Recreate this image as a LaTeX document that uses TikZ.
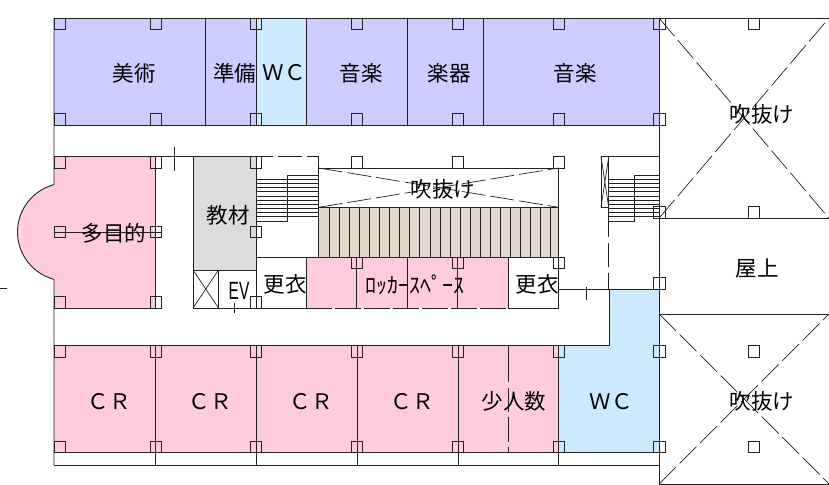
\documentclass[tikz,border=0pt]{standalone}
\usepackage{fontspec}
\setmainfont{Liberation Sans}
\newfontfamily\jpfont{Noto Sans CJK JP}
\definecolor{lineC}{HTML}{222222}
\definecolor{purp}{HTML}{CCCCFF}
\definecolor{skyb}{HTML}{CCE9FF}
\definecolor{pinkr}{HTML}{FFCCDF}
\definecolor{greyr}{HTML}{DCDCDC}
\definecolor{brownr}{HTML}{E3D9CF}
\tikzset{
  wall/.style={draw=lineC,line width=0.9bp},
  thin wall/.style={draw=lineC,line width=0.7bp},
  dash wall/.style={draw=lineC,line width=0.8bp,dash pattern=on 24bp off 5bp},
  void cross/.style={draw=lineC,line width=0.7bp,dash pattern=on 24bp off 5bp},
  column/.style={draw=lineC,line width=0.9bp},
  room/.style={inner sep=0pt,font=\jpfont\fontsize{21.5bp}{23bp}\selectfont,text=black},
}
\begin{document}
\begin{tikzpicture}[x=1bp,y=-1bp]
\useasboundingbox (0,0) rectangle (829,485);
% fills
\fill[purp] (54,18) rectangle (659,125.3);
\fill[skyb] (256,18) rectangle (306.3,125.3);
\fill[pinkr] (54,156.7) -- (155,156.7) -- (155,308) -- (54,308) -- (54,279.3)
  -- plot[domain=255.3:104.7,samples=40] ({66.4+48.9*cos(\x)},{232+48.9*sin(\x)}) -- cycle;
\fill[greyr] (193,156.7) rectangle (256,270);
\fill[brownr] (318.7,207.3) rectangle (558.5,257.3);
\fill[pinkr] (306.3,257.3) rectangle (508,308);
\fill[pinkr] (54,345.7) rectangle (558.5,452.7);
\fill[skyb] (609,289.3) -- (659,289.3) -- (659,452.7) -- (558.5,452.7) -- (558.5,345.7) -- (609,345.7) -- cycle;
% main walls
\draw[wall] (54,18) -- (829,18);
\draw[wall] (54,125.3) -- (659,125.3);
\draw[wall] (54,18) -- (54,184.7)
  plot[domain=104.7:255.3,samples=40] ({66.4+48.9*cos(\x)},{232+48.9*sin(\x)})
  (54,279.3) -- (54,465.3);
\draw[wall] (659,18) -- (659,484) -- (829,484);
\draw[wall] (659,218.3) -- (829,218.3);
\draw[wall] (659,314) -- (829,314);
\foreach \x in {205.7,256,306.3,407.3,483} \draw[wall] (\x,18) -- (\x,125.3);
% upper left
\draw[wall] (54,156.7) -- (193,156.7);
\draw[wall] (155,156.7) -- (155,308);
\draw[wall] (54,308) -- (161,308);
\draw[thin wall] (54,232.3) -- (161,232.3);
\draw[thin wall] (174,147) -- (174,170.7);
\draw[thin wall] (0,288) -- (7,288);
% core
\draw[wall] (193,156.7) -- (256,156.7);
\draw[wall] (193,156.7) -- (193,308) -- (306.3,308);
\draw[wall] (256,156.7) -- (256,308);
\draw[wall] (193,270) -- (256,270);
\draw[wall] (218.5,270) -- (218.5,308);
\draw[thin wall] (193,270) -- (218.5,308) (218.5,270) -- (193,308);
\draw[thin wall] (234.3,303) -- (234.3,312.7);
\draw[dash wall,dash pattern=on 11bp off 5bp on 24bp off 5bp on 12bp] (262,156.7) -- (318.7,156.7);
\draw[wall] (318.7,156.7) -- (318.7,257.3);
% left stair
\foreach \i in {0,...,9} \draw[thin wall] (256,179.3+4.17*\i) -- (318.7,179.3+4.17*\i);
\draw[thin wall] (256,221) -- (287.3,221) -- (287.3,175.3) -- (318.7,175.3);
% atrium
\draw[wall] (318.7,168) -- (558.5,168);
\draw[wall] (318.7,207.3) -- (558.5,207.3);
\draw[wall] (558.5,168) -- (558.5,308);
\draw[wall] (256,257.3) -- (558.5,257.3);
\draw[void cross] (318.7,168) -- (558.5,207.3);
\draw[void cross] (318.7,207.3) -- (558.5,168);
\foreach \i in {0,...,22} \draw[thin wall] (329.3+10.06*\i,207.3) -- (329.3+10.06*\i,257.3);
% lockers
\foreach \x in {306.3,356.7,407.3,457.7,508} \draw[wall] (\x,257.3) -- (\x,308);
\draw[wall,dash pattern=on 26bp off 3bp] (306.3,308) -- (508,308);
\draw[wall] (508,308) -- (558.5,308);
% right stair
\draw[wall] (608.7,156.7) -- (659,156.7);
\draw[wall] (608.7,156.7) -- (608.7,221);
\draw[thin wall] (601,156.7) rectangle (608.7,207.3);
\draw[thin wall] (601,156.7) -- (608.7,207.3) (608.7,156.7) -- (601,207.3);
\foreach \i in {0,...,9} \draw[thin wall] (608.7,179.3+4.17*\i) -- (659,179.3+4.17*\i);
\draw[thin wall] (608.7,221) -- (634,221) -- (634,175.3) -- (659,175.3);
\draw[thin wall,dash pattern=on 16bp off 6bp on 24bp off 6bp on 17bp] (608.7,221) -- (608.7,290);
\draw[thin wall] (558.5,289.3) -- (609,289.3);
\draw[thin wall] (586.3,286.7) -- (586.3,300);
% WC outline
\draw[wall] (609,289.3) -- (659,289.3);
\draw[wall] (609,289.3) -- (609,345.7) -- (54,345.7);
% lower
\draw[wall] (54,452.7) -- (659,452.7);
\draw[wall] (54,465.3) -- (659,465.3);
\foreach \x in {155,256,357,458,558.5} \draw[wall] (\x,345.7) -- (\x,465.3);
\draw[thin wall,dash pattern=on 36bp off 6bp on 24bp off 5bp on 25bp off 5bp on 6bp] (508,345.7) -- (508,452.7);
% voids
\draw[void cross] (659,18) -- (829,218.3);
\draw[void cross] (659,218.3) -- (829,18);
\draw[void cross] (659,314) -- (829,484);
\draw[void cross] (659,484) -- (829,314);
% columns
\foreach \x/\y in {
  54/18,150/18,250.3/18,351/18,452/18,553/18,653.7/18,748/18,
  54/113.7,150/113.7,250.3/113.7,351/113.7,452/113.7,553/113.7,653.7/113.7,
  54/156.7,150/156.7,250.3/156.7,351/156.7,452/156.7,553/156.7,
  54/226.3,150/226.3,250.3/226.3,653.7/206.7,748/206.7,
  351/257.3,452/257.3,553/257.3,653.7/277.7,
  54/296.7,150/296.7,250.3/296.7,
  54/345.7,150/345.7,250.3/345.7,351/345.7,452/345.7,553/345.7,653.7/345.7,748/345.7,
  54/441.3,150/441.3,250.3/441.3,351/441.3,452/441.3,553/441.3,653.7/441.3,748/441.3}
  \draw[column] (\x,\y) rectangle +(11.6,11.6);
% labels
\node[room] (art) at (134,73) {美術};
\node[room] (prep) at (234.5,73) {準備};
\node[room] (wc1) at (284,73) {ＷＣ};
\node[room] (mus1) at (361,73) {音楽};
\node[room] (inst) at (449,73) {楽器};
\node[room] (mus2) at (575,73) {音楽};
\node[room] (void1) at (762,114) {吹抜け};
\node[room] (roof) at (757,268) {屋上};
\node[room] (void2) at (762,401) {吹抜け};
\node[room] (multi) at (114,233) {多目的};
\node[room] (mat) at (228,215) {教材};
\node[room] (void3) at (443,189) {吹抜け};
\node[room] (chg1) at (285,284) {更衣};
\node[room] (chg2) at (537,284) {更衣};
\node[room,font=\jpfont\fontsize{22bp}{24bp}\selectfont] (lock) at (415,285) {ﾛｯｶｰｽﾍﾟｰｽ};
\node[inner sep=0pt] (ev) at (239,290.5) {\scalebox{0.62}[1]{\fontsize{25bp}{27bp}\selectfont EV}};
\node[room] (cr1) at (109,401.5) {ＣＲ};
\node[room] (cr2) at (210,401.5) {ＣＲ};
\node[room] (cr3) at (311,401.5) {ＣＲ};
\node[room] (cr4) at (412,401.5) {ＣＲ};
\node[room] (few) at (514,401.5) {少人数};
\node[room] (wc2) at (611,401.5) {ＷＣ};
\end{tikzpicture}
\end{document}
